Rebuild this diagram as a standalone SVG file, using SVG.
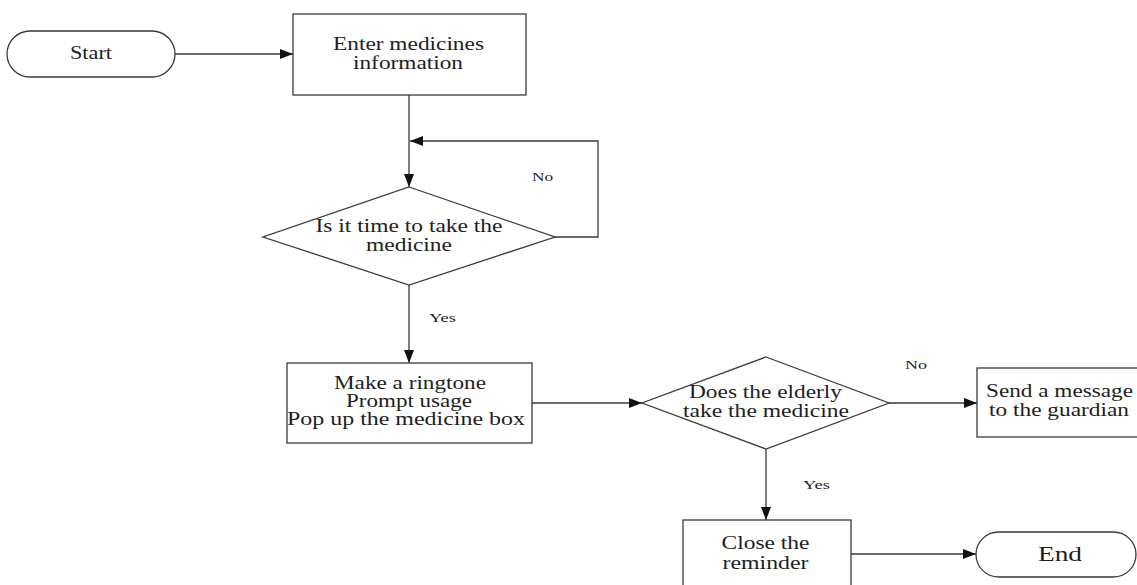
<svg xmlns="http://www.w3.org/2000/svg" width="1137" height="585" viewBox="0 0 1137 585">
<style>
.shape{fill:#fff;stroke:#3a3a3a;stroke-width:1.3}
.edge{fill:none;stroke:#3a3a3a;stroke-width:1.3}
text{font-family:"Liberation Serif","Times New Roman",serif;fill:#1e1e1e;text-anchor:middle}
.t{font-size:18px}
.l{font-size:13.5px}
.e{font-size:21px}
</style>
<defs>
<marker id="ah" viewBox="0 0 13 10" refX="13" refY="5" markerWidth="13" markerHeight="10" markerUnits="userSpaceOnUse" orient="auto">
<path d="M0,0 L13,5 L0,10 z" fill="#111"/>
</marker>
</defs>
<rect width="1137" height="585" fill="#fff"/>
<g id="connectors">
<path class="edge" d="M175,54 H293" marker-end="url(#ah)"/>
<path class="edge" d="M409,95 V187" marker-end="url(#ah)"/>
<path class="edge" d="M555,237 H598 V141 H410" marker-end="url(#ah)"/>
<path class="edge" d="M409,285 V363" marker-end="url(#ah)"/>
<path class="edge" d="M532,403 H642" marker-end="url(#ah)"/>
<path class="edge" d="M889,403 H977" marker-end="url(#ah)"/>
<path class="edge" d="M766,449 V520" marker-end="url(#ah)"/>
<path class="edge" d="M851,554 H976" marker-end="url(#ah)"/>
<text class="l" x="542.5" y="181" textLength="21" lengthAdjust="spacingAndGlyphs">No</text>
<text class="l" x="442.5" y="322" textLength="27" lengthAdjust="spacingAndGlyphs">Yes</text>
<text class="l" x="916" y="369" textLength="22" lengthAdjust="spacingAndGlyphs">No</text>
<text class="l" x="816.5" y="489" textLength="27" lengthAdjust="spacingAndGlyphs">Yes</text>
</g>
<g id="start">
<rect class="shape" x="7" y="31" width="168" height="46" rx="23" ry="23"/>
<text class="t" x="91" y="59" textLength="42" lengthAdjust="spacingAndGlyphs">Start</text>
</g>
<g id="enter">
<rect class="shape" x="293" y="14" width="233" height="81"/>
<text class="t" x="408.5" y="50" textLength="151" lengthAdjust="spacingAndGlyphs">Enter medicines</text>
<text class="t" x="408" y="69" textLength="110" lengthAdjust="spacingAndGlyphs">information</text>
</g>
<g id="is-time">
<polygon class="shape" points="409,187 555,237 409,285 263,237"/>
<text class="t" x="409" y="232" textLength="187" lengthAdjust="spacingAndGlyphs">Is it time to take the</text>
<text class="t" x="409" y="251" textLength="86" lengthAdjust="spacingAndGlyphs">medicine</text>
</g>
<g id="ringtone">
<rect class="shape" x="287" y="363" width="245" height="80"/>
<text class="t" x="410" y="389" textLength="152" lengthAdjust="spacingAndGlyphs">Make a ringtone</text>
<text class="t" x="409" y="407" textLength="126" lengthAdjust="spacingAndGlyphs">Prompt usage</text>
<text class="t" x="406" y="425" textLength="238" lengthAdjust="spacingAndGlyphs">Pop up the medicine box</text>
</g>
<g id="does-take">
<polygon class="shape" points="766,357 889,403 766,449 642,403"/>
<text class="t" x="765.5" y="398" textLength="153" lengthAdjust="spacingAndGlyphs">Does the elderly</text>
<text class="t" x="766" y="417" textLength="166" lengthAdjust="spacingAndGlyphs">take the medicine</text>
</g>
<g id="send-message">
<rect class="shape" x="977" y="368" width="170" height="69"/>
<text class="t" x="1059.5" y="397" textLength="147" lengthAdjust="spacingAndGlyphs">Send a message</text>
<text class="t" x="1059" y="416" textLength="140" lengthAdjust="spacingAndGlyphs">to the guardian</text>
</g>
<g id="close-reminder">
<rect class="shape" x="683" y="520" width="168" height="75"/>
<text class="t" x="765.5" y="549" textLength="88" lengthAdjust="spacingAndGlyphs">Close the</text>
<text class="t" x="765.5" y="569" textLength="86" lengthAdjust="spacingAndGlyphs">reminder</text>
</g>
<g id="end">
<rect class="shape" x="976" y="532" width="160" height="45" rx="22.5" ry="22.5"/>
<text class="e" x="1060" y="561" textLength="44" lengthAdjust="spacingAndGlyphs">End</text>
</g>
</svg>
